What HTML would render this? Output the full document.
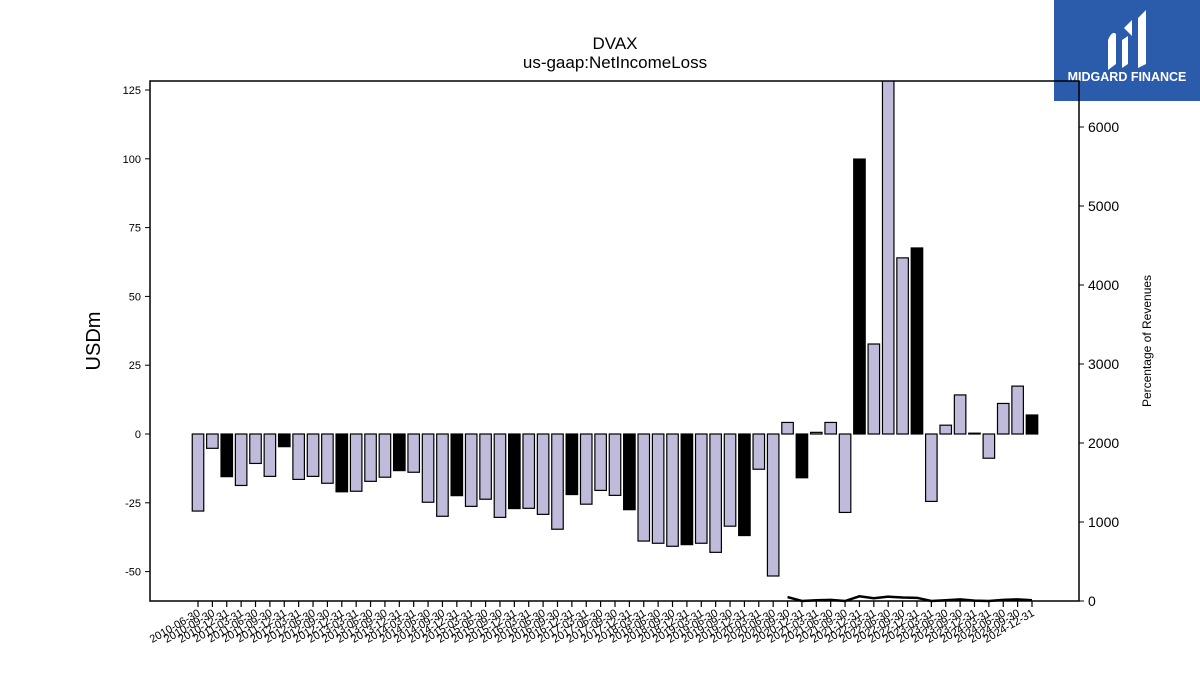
<!DOCTYPE html>
<html><head><meta charset="utf-8"><style>
body{margin:0;background:#fff;width:1200px;height:675px;overflow:hidden;font-family:"Liberation Sans","DejaVu Sans",sans-serif}
</style></head><body>
<svg id="chart" width="1200" height="675" xmlns="http://www.w3.org/2000/svg" font-family="Liberation Sans, DejaVu Sans, sans-serif">
<g>
<rect x="1054" y="0" width="146" height="101" fill="#2b5bab"/>
<path d="M1108 70 L1108 40 Q1112 30 1116 34 L1116 64 Z M1122 68 L1122 40 L1128 36 L1128 64 Z M1138 68 L1138 18 L1146 10 L1146 64 Z M1124 28 L1132 20 L1132 36 Z" fill="#fff"/>
<text x="1127" y="81" fill="#fff" font-size="12.5" font-weight="bold" text-anchor="middle">MIDGARD FINANCE</text>
</g>
<text x="615" y="49" font-size="17" text-anchor="middle">DVAX</text>
<text x="615" y="68" font-size="17" text-anchor="middle">us-gaap:NetIncomeLoss</text>
<text transform="translate(100,341) rotate(-90)" font-size="20" text-anchor="middle">USDm</text>
<text transform="translate(1151,341) rotate(-90)" font-size="12" text-anchor="middle">Percentage of Revenues</text>
<g id="bars"></g><g id="line"></g><g id="axes"></g>
</svg>
<script>
const categories=[];
(function(){const e=['03-31','06-30','09-30','12-31'];for(let y=2010;y<=2024;y++)for(let q=0;q<4;q++){if(y===2010&&q===0)continue;categories.push(y+'-'+e[q]);}})();
const netIncome=[-28,-5.2,-15.5,-18.7,-10.7,-15.4,-4.6,-16.5,-15.4,-17.9,-21,-20.8,-17.2,-15.7,-13.3,-13.9,-24.8,-29.9,-22.4,-26.3,-23.7,-30.3,-27.1,-27,-29.2,-34.6,-22,-25.5,-20.5,-22.3,-27.5,-38.9,-39.7,-40.8,-40.2,-39.7,-43,-33.5,-36.9,-12.8,-51.6,4.2,-15.9,0.6,4.2,-28.5,99.9,32.7,140,64,67.6,-24.5,3.2,14.2,0.3,-8.8,11.1,17.4,6.9];
const pctRevenue=[null,null,null,null,null,null,null,null,null,null,null,null,null,null,null,null,null,null,null,null,null,null,null,null,null,null,null,null,null,null,null,null,null,null,null,null,null,null,null,null,null,50,-20,10,15,-10,60,35,55,45,40,-10,10,20,5,-5,15,20,10];
const leftTicks=[-50,-25,0,25,50,75,100,125];
const rightTicks=[0,1000,2000,3000,4000,5000,6000];
const NS='http://www.w3.org/2000/svg';
const L=150,R=1079,T=81,B=601;
const yL=v=>434-v*2.752;
const yR=v=>601-v*0.079;
const step=(1032-198)/(categories.length-1);
const xC=i=>198+i*step;
function mk(t,a,p){const e=document.createElementNS(NS,t);for(const k in a)e.setAttribute(k,a[k]);p.appendChild(e);return e;}
const bars=document.getElementById('bars'),line=document.getElementById('line'),axes=document.getElementById('axes');
const clip=mk('clipPath',{id:'pc'},bars);mk('rect',{x:L,y:T,width:R-L,height:B-T},clip);
bars.setAttribute('clip-path','url(#pc)');
const bw=step*0.8;
netIncome.forEach((v,i)=>{
 const y0=yL(0),y1=yL(v);
 const r=mk('rect',{x:xC(i)-bw/2,y:Math.min(y0,y1),width:bw,height:Math.max(Math.abs(y1-y0),0.8),fill:categories[i].endsWith('12-31')?'#000':'#bfbbdb',stroke:'#000','stroke-width':1.2},bars);
 
 
});
let d='';pctRevenue.forEach((v,i)=>{if(v===null)return;d+=(d?'L':'M')+xC(i)+' '+Math.min(yR(v),B);});
const pl=mk('path',{d:d,fill:'none',stroke:'#000','stroke-width':2.5},line);


const fr=mk('rect',{x:L,y:T,width:R-L,height:B-T,fill:'none',stroke:'#000','stroke-width':1.5},axes);


leftTicks.forEach(v=>{const y=yL(v);mk('line',{x1:L-5,x2:L,y1:y,y2:y,stroke:'#000'},axes);
 const t=mk('text',{x:L-9,y:y+4,'font-size':11,'text-anchor':'end'},axes);t.textContent=v;
 
 });
rightTicks.forEach(v=>{const y=yR(v);mk('line',{x1:R,x2:R+5,y1:y,y2:y,stroke:'#000'},axes);
 const t=mk('text',{x:R+9,y:y+5,'font-size':14},axes);t.textContent=v;
 
 });
categories.forEach((c,i)=>{const x=xC(i);mk('line',{x1:x,x2:x,y1:B,y2:B+6,stroke:'#000','stroke-width':1.2},axes);
 const t=mk('text',{transform:'translate('+(x+3)+','+(B+14)+') rotate(-30)','font-size':11,'text-anchor':'end'},axes);t.textContent=c;
 
 });
</script>
</body></html>
